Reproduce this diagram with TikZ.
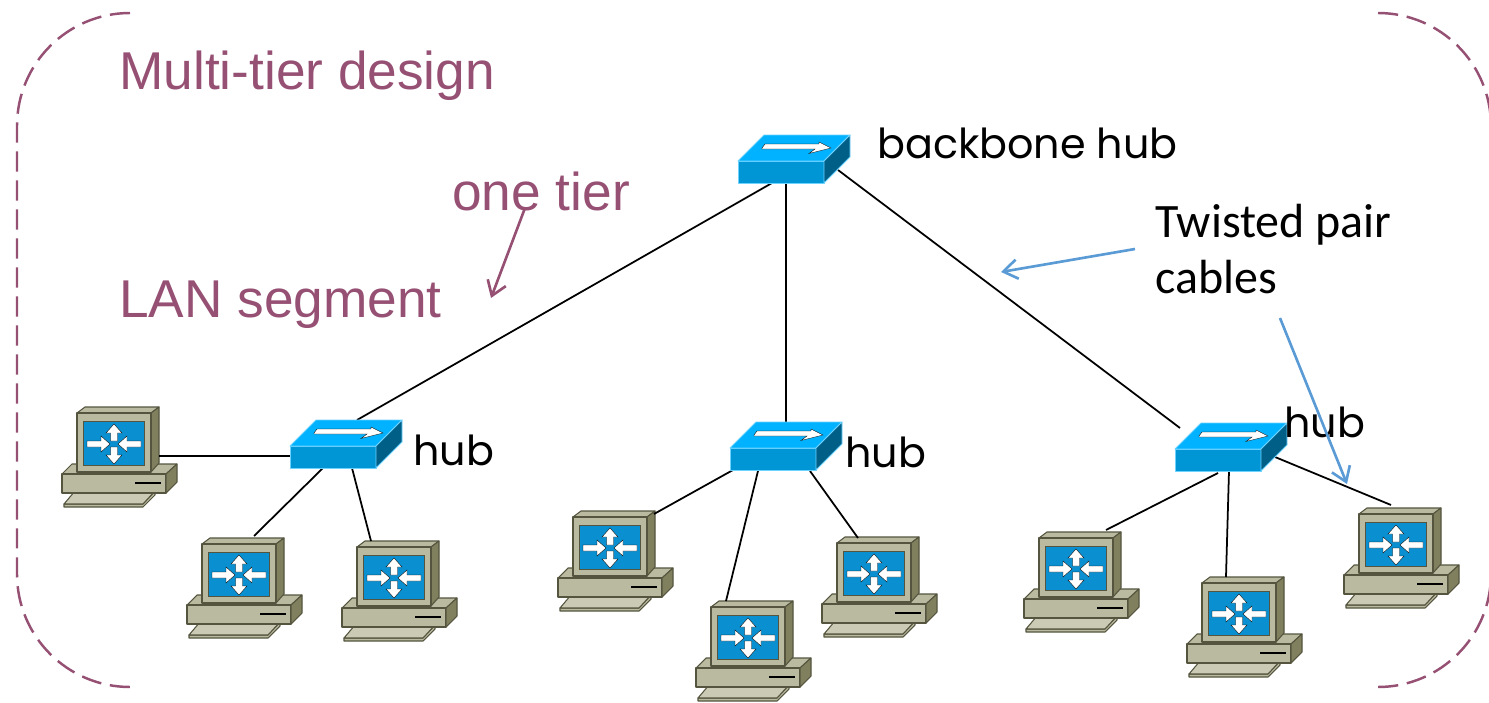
\documentclass[tikz,border=0pt]{standalone}
\usepackage{fontspec}
\setmainfont{Liberation Sans}
\newfontfamily\handfont{Poppins}
\newfontfamily\bodyfont{Carlito}
\usetikzlibrary{arrows.meta}

\definecolor{plum}{RGB}{150,80,115}
\definecolor{cableblue}{RGB}{91,155,213}
\definecolor{hubtop}{RGB}{0,178,255}
\definecolor{hubfront}{RGB}{0,150,214}
\definecolor{hubside}{RGB}{0,95,135}
\definecolor{hubedge}{RGB}{110,210,255}
\definecolor{hostface}{RGB}{185,186,159}
\definecolor{hostlight}{RGB}{203,203,181}
\definecolor{hostside}{RGB}{128,128,95}
\definecolor{hostedge}{RGB}{85,85,63}
\definecolor{hostscreen}{RGB}{10,143,208}

\tikzset{
	hubbox/.style={inner sep=0pt,outer sep=0pt,minimum width=2.24cm,minimum height=0.96cm},
	hostbox/.style={inner sep=0pt,outer sep=0pt,minimum width=2.28cm,minimum height=2cm},
	cable/.style={black,line width=1pt},
	hubline/.style={hubedge,line width=0.5pt,line join=round},
	hostline/.style={hostedge,line width=0.6pt,line join=round},
	screenarrow/.style={draw=black,line width=0.2pt,fill=white},
	slide/.style={plum,font=\fontsize{30.3}{33}\selectfont,inner sep=0pt,anchor=base west},
	hand/.style={black,font=\handfont\fontsize{23.5}{26}\selectfont,inner sep=0pt,anchor=base west},
	note/.style={black,font=\bodyfont\fontsize{27.3}{30}\selectfont,inner sep=0pt,anchor=base west},
	frame/.style={plum,line width=1.4pt,dash pattern=on 11.5pt off 5pt},
	pointer/.style={line width=1.5pt,-{Straight Barb[length=8pt,width=11pt]}}
}

\newcommand\drawHub[3]{
	\node[hubbox] at (#1,#2) (#3) {};
	\begin{scope}[shift={(#1,#2)}]
		\filldraw[hubline,fill=hubfront] (-56,2) rectangle (30,24);
		\filldraw[hubline,fill=hubtop] (-56,2) -- (-30,-24) -- (56,-24) -- (30,2) -- cycle;
		\filldraw[hubline,fill=hubside] (30,2) -- (56,-24) -- (56,-2) -- (30,24) -- cycle;
		\filldraw[draw=black,line width=0.2pt,fill=white] (-32,-11) -- (-29,-15) -- (25,-15) -- (25,-17) -- (37,-11) -- (15,-5.5) -- (21,-10) -- (-32,-10) -- cycle;
	\end{scope}
}

\newcommand\drawHost[3]{
	\node[hostbox] at (#1,#2) (#3) {};
	\begin{scope}[shift={(#1,#2)}]
		% keyboard
		\filldraw[hostline,fill=hostface] (-55,47) -- (24,47) -- (36,34) -- (36,38) -- (24,50) -- (-55,50) -- cycle;
		\filldraw[hostline,fill=hostlight] (-44,34) -- (36,34) -- (24,47) -- (-55,47) -- cycle;
		% base
		\filldraw[hostline,fill=hostface] (-47,7) -- (58,7) -- (47,17) -- (-57,17) -- cycle;
		\filldraw[hostline,fill=hostface] (-57,17) rectangle (47,36);
		\filldraw[hostline,fill=hostside] (47,17) -- (58,7) -- (58,25) -- (47,36) -- cycle;
		\draw[black,line width=1.2pt] (16,26) -- (42,26);
		% monitor
		\filldraw[hostline,fill=hostface] (-42,-44) -- (-34,-50) -- (40,-50) -- (32,-44) -- cycle;
		\filldraw[hostline,fill=hostside] (32,-44) -- (40,-50) -- (40,6) -- (32,15) -- cycle;
		\filldraw[hostline,fill=hostface] (-42,-44) rectangle (32,15);
		\filldraw[draw=hostedge,line width=0.3pt,fill=hostscreen] (-36,-36) rectangle (25,8);
		% arrows of the screen
		\foreach \r in {0,180}
		{
			\filldraw[screenarrow,shift={(-5,-13)},rotate=\r] (4,0) -- (13,-8) -- (13,-3) -- (27,-3) -- (27,3) -- (13,3) -- (13,8) -- cycle;
		}
		\foreach \r in {90,270}
		{
			\filldraw[screenarrow,shift={(-5,-13)},rotate=\r] (20,0) -- (11,-8) -- (11,-3.5) -- (3,-3.5) -- (3,3.5) -- (11,3.5) -- (11,8) -- cycle;
		}
	\end{scope}
}

\newcommand\drawCable[6]{\draw[cable] ([shift={(#2,#3)}]#1.center) -- ([shift={(#5,#6)}]#4.center);}

\begin{document}
\begin{tikzpicture}[x=0.02cm,y=-0.02cm]
	\useasboundingbox (0,0) rectangle (1489,703);

	\node[hubbox] at (794,159) (backbone) {};

	\draw[frame] (130,13) arc[start angle=-90,end angle=-180,radius=113] -- (17,574) arc[start angle=180,end angle=90,radius=113];
	\draw[frame] (1378,13) arc[start angle=-90,end angle=0,radius=113] -- (1491,574) arc[start angle=0,end angle=90,radius=113];

	\coordinate (hubAc) at (346,444);
	\coordinate (hubBc) at (786,446);
	\coordinate (hubCc) at (1231,447);

	\drawCable{backbone}{-22}{24}{hubAc}{11}{-24}
	\drawCable{backbone}{-8}{24}{hubBc}{0}{-24}
	\drawCable{backbone}{44}{11}{hubCc}{-51}{-19}

	\drawHost{119}{457}{hostA}
	\drawHost{244}{588}{hostB}
	\drawHost{399}{591}{hostC}
	\drawHost{615}{561}{hostD}
	\drawHost{753}{651}{hostE}
	\drawHost{879}{587}{hostF}
	\drawHost{1081}{582}{hostG}
	\drawHost{1244}{627}{hostH}
	\drawHost{1401}{558}{hostI}

	\drawCable{hubAc}{-56}{12}{hostA}{40}{-1}
	\drawCable{hubAc}{-23}{24}{hostB}{10}{-52}
	\drawCable{hubAc}{6}{24}{hostC}{-28}{-50}
	\drawCable{hubBc}{-53}{24}{hostD}{39}{-47}
	\drawCable{hubBc}{-28}{25}{hostE}{-27}{-50}
	\drawCable{hubBc}{24}{25}{hostF}{-21}{-49}
	\drawCable{hubCc}{-13}{26}{hostG}{25}{-52}
	\drawCable{hubCc}{-2}{24}{hostH}{-18}{-50}
	\drawCable{hubCc}{44}{10}{hostI}{-10}{-53}

	\drawHub{794}{159}{backboneHub}
	\drawHub{346}{444}{hubA}
	\drawHub{786}{446}{hubB}
	\drawHub{1231}{447}{hubC}

	\node[slide] at (119,90) (title) {Multi-tier design};
	\node[slide] at (452,210) (tier) {one tier};
	\node[slide] at (119,317) (segment) {LAN segment};
	\node[hand] at (877,158) (backboneLabel) {backbone hub};
	\node[hand] at (413,465) (hubALabel) {hub};
	\node[hand] at (845,467) (hubBLabel) {hub};
	\node[hand] at (1284,437) (hubCLabel) {hub};
	\node[note] at (1155,237) (pair) {Twisted pair};
	\node[note] at (1155,293) (cables) {cables};

	\coordinate (tierStart) at (525,208);
	\coordinate (tierEnd) at (491,298);
	\coordinate (pairStart) at (1135,249);
	\coordinate (pairEnd) at (1001,272);
	\coordinate (cablesStart) at (1280,318);
	\coordinate (cablesEnd) at (1347,484);
	\draw[pointer,plum] (tierStart) -- (tierEnd);
	\draw[pointer,cableblue] (pairStart) -- (pairEnd);
	\draw[pointer,cableblue] (cablesStart) -- (cablesEnd);
\end{tikzpicture}
\end{document}
